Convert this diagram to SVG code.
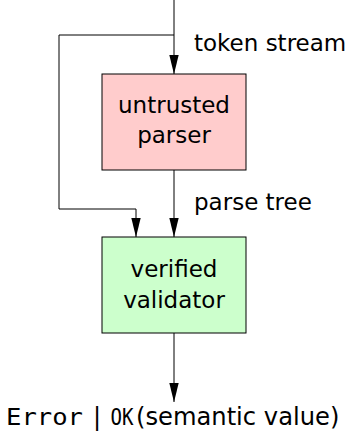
<svg xmlns="http://www.w3.org/2000/svg" width="352" height="433" viewBox="0 0 352 433">
<style>
.t{font-family:"DejaVu Sans",sans-serif;font-size:23px;fill:#000}
.m{font-family:"DejaVu Sans Mono",monospace;font-size:23px}
.b{font-family:"DejaVu Sans",sans-serif;font-size:24.2px;fill:#000}
.box{stroke:#000;stroke-width:1}
.c{fill:none;stroke:#000;stroke-width:1}
</style>
<defs>
<marker id="ah" markerUnits="userSpaceOnUse" markerWidth="20" markerHeight="10" refX="19" refY="4.7" orient="auto">
<path d="M0,0 L19,4.7 L0,9.4 z" fill="#000"/>
</marker>
</defs>
<g id="connectors">
<path class="c" d="M174,0 V74" marker-end="url(#ah)"/>
<path class="c" d="M174,35 H59 V209 H136 V237" marker-end="url(#ah)"/>
<path class="c" d="M174,170 V237" marker-end="url(#ah)"/>
<path class="c" d="M174,333 V402" marker-end="url(#ah)"/>
<text class="t" x="194" y="51">token stream</text>
<text class="t" x="194" y="210">parse tree</text>
</g>
<g id="parser">
<rect class="box" x="102" y="74" width="144" height="96" fill="#ffcccc"/>
<text class="t" x="174" y="113" text-anchor="middle">untrusted</text>
<text class="t" x="174" y="143" text-anchor="middle">parser</text>
</g>
<g id="validator">
<rect class="box" x="102" y="237" width="144" height="96" fill="#ccffcc"/>
<text class="t" x="174" y="277" text-anchor="middle">verified</text>
<text class="t" x="174" y="308" text-anchor="middle">validator</text>
</g>
<g id="output">
<text class="b" y="425"><tspan class="m" x="6" textLength="77" lengthAdjust="spacingAndGlyphs">Error</tspan><tspan x="93">|</tspan><tspan class="m" x="110.5" textLength="23" lengthAdjust="spacingAndGlyphs">OK</tspan><tspan x="136">(semantic value)</tspan></text>
</g>
</svg>
